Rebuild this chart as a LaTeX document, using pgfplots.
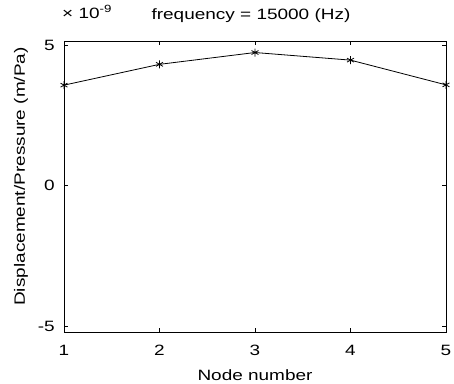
\documentclass[border=0pt]{standalone}
\usepackage{pgfplots}
\pgfplotsset{compat=1.18}
\usepackage{fontspec}
\setmainfont{Liberation Sans}[FakeStretch=1.27]
\begin{document}
\begin{tikzpicture}
\begin{axis}[
  /pgf/number format/assume math mode=true,
  scale only axis,
  width=382bp, height=291bp,
  xmin=1, xmax=5, ymin=-5.21, ymax=5.14,
  xtick={1,2,3,4,5},
  ytick={-5,0,5},
  tick align=inside,
  major tick length=4bp,
  tick style={black, line width=0.8bp},
  axis line style={line width=0.8bp},
  ticklabel style={font=\fontsize{15}{16}\selectfont},
  xticklabel style={anchor=base, inner sep=0pt, yshift=-23bp},
  yticklabel style={anchor=east, inner sep=0pt, xshift=-9bp},
  xlabel={Node number},
  ylabel={Displacement/Pressure (m/Pa)},
  label style={font=\fontsize{15}{16}\selectfont},
  xlabel style={at={(rel axis cs:0.5,0)}, anchor=base, inner sep=0pt, yshift=-48bp},
  ylabel style={at={(rel axis cs:0,0.5)}, anchor=base, inner sep=0pt, yshift=39bp, xshift=10bp},
  title={frequency = 15000 (Hz)},
  title style={font=\fontsize{15}{16}\selectfont, at={(rel axis cs:0.5,1)}, anchor=base, inner sep=0pt, yshift=16bp, xshift=-4bp},
  scaled y ticks=false,
  clip=false,
]
\addplot[black, line width=0.8bp, mark=asterisk, mark size=4bp] coordinates {
  (1,3.57) (2,4.31) (3,4.73) (4,4.46) (5,3.58)
};
\node[anchor=base west, font=\fontsize{15}{16}\selectfont, inner sep=0pt] at ([xshift=-2bp, yshift=23bp]rel axis cs:0,1) {× 10\textsuperscript{-9}};
\coordinate (ll) at (rel axis cs:0,0);
\coordinate (ur) at (rel axis cs:1,1);
\end{axis}
\path ([xshift=-64bp, yshift=-52bp]ll) rectangle ([xshift=8bp, yshift=41bp]ur);
\end{tikzpicture}
\end{document}
